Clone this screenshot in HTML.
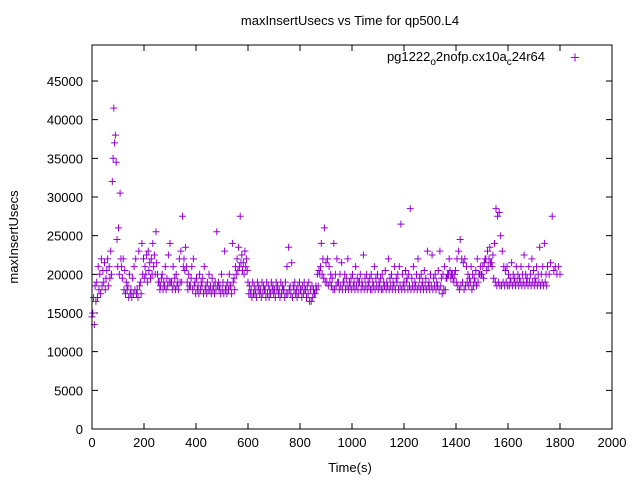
<!DOCTYPE html>
<html><head><meta charset="utf-8"><style>
body{margin:0;background:#fff;}
svg text{font-family:"Liberation Sans",Arial,sans-serif;font-size:13px;fill:#000;}
</style></head><body>
<svg id="chart" width="640" height="480" viewBox="0 0 640 480" xmlns="http://www.w3.org/2000/svg">
<rect width="640" height="480" fill="#fff"/>
<text x="350" y="25" text-anchor="middle">maxInsertUsecs vs Time for qp500.L4</text>
<text transform="translate(18,237) rotate(-90)" text-anchor="middle">maxInsertUsecs</text>
<text x="350" y="472" text-anchor="middle">Time(s)</text>
<g id="ticks"></g>
<g id="marks"></g>
<rect x="92" y="45" width="520" height="384" fill="none" stroke="#000" stroke-width="1"/>
<g>
<text x="545" y="61" text-anchor="end">pg1222<tspan font-size="10" dy="4">o</tspan><tspan dy="-4">2nofp.cx10a</tspan><tspan font-size="10" dy="4">c</tspan><tspan dy="-4">24r64</tspan></text>
<path d="M571,57.5h8M575,53.5v8" stroke="#9400d3" stroke-width="1"/>
</g>
</svg>
<script>
const xTicks=[0,200,400,600,800,1000,1200,1400,1600,1800,2000];
const yTicks=[0,5000,10000,15000,20000,25000,30000,35000,40000,45000];
const tStart=0, tStep=6, tOffsetLower=3;
const upperVals=[14.5,17,18.5,19,21,20,22,20.5,21.5,19.5,22,21,23,32,41.5,38,24.5,26,30.5,21,22,20.5,19,18.5,20,18,19.5,21,22,18,23,19,24,22,21,22.5,23,21.5,22,24,22.5,25.5,20,19,18.5,20,19,21,19.5,22.5,24,19,21,19.5,20,19,22,23,27.5,22,23.5,19,20,18.5,21,22,19,19.5,18.5,20,19,19.5,21,18.5,19,20,18.5,19.5,18.5,19,25.5,19,18.5,20,19,23,18.5,19,20,18.5,24,19.5,21,22,23.5,27.5,22.5,21.5,23,22,19,18.5,18,19,18.5,18,19,18.5,18,19,18.5,18,19,18.5,18,19,18.5,18,19,18.5,18,19,18.5,18,19,21,23.5,18.5,21.5,18.5,19,18,18.5,19,18,18.5,19,18,18.5,19,18,18.5,18,17.5,18,18.5,20,24,22,26,21.5,22,21,20,19.5,24,20,22,19,20,21.5,19,20,19.5,22,19,19.5,20,19,21,19.5,19,20,19,22.5,19.5,20,19,19.5,20,19,21,19.5,20,19,19.5,20,19,20.5,19,22,19.5,20,19,21,19.5,20,21,26.5,20,19,20.5,19.5,20,28.5,19.5,21,19,20,22,19.5,20,19,20.5,19.5,23,19,20,22.5,19.5,20,19,20.5,23,19.5,20,21,19.5,20,22,19.5,20,19,20.5,22,23,24.5,22,21.5,22,21,20,19.5,21,20,19.5,20.5,22,20,21,20,19.5,22,20.5,21,23.5,21.5,22.5,24,28.5,27.5,28,25,23,21,20.5,21,20,19.5,21.5,20,19.5,21,20,19.5,21,20,22.5,20,19.5,21,20,22,20.5,19.5,21,20,23.5,20,21,24,20,21,20,21.5,27.5,20.5,21,20,21,20];
const lowerVals=[15,13.5,16.5,17,18,17.5,18.5,19,18,20.5,18.5,19.5,20,35,37,34.5,21,20,22,19.5,18,17.5,18,17,17.5,17,17.5,18,17.5,17,18.5,17.5,20,19.5,20,19,20.5,19.5,20,21,20,21.5,19,18,19.5,18,18.5,18,18.5,19,19,18,18.5,18,18.5,18,19,19,21,20.5,21,18,18.5,19.5,18,18.5,17.5,18,17.5,18,18.5,17.5,18,17.5,18,18,17.5,18,17.5,18,18.5,18,17.5,18,17.5,18,17.5,18,18.5,17.5,19,18,20,20.5,21,21.5,20.5,20,21,20.5,17.5,17.5,17,17.5,17.5,17,18,17.5,17,17.5,18,17,17.5,17,17.5,18,17.5,17,18,17.5,17,17.5,18,17,17.5,17.5,18,17.5,17,18,17.5,17,17.5,18,17,17.5,18,17,17.5,16.5,16.5,17,17.5,18.5,20,20.5,21,20,19.5,19,19,18.5,19,18.5,18,18,18.5,19,18,18.5,18,19,18,18.5,18,18.5,18,18.5,18,18.5,18,19,18,18.5,18,18.5,18,18.5,18,18,18.5,18,18.5,18,18.5,18,18,18.5,18,18.5,18,18.5,18,18.5,18,19,18,18.5,18,18.5,18,19,18,18.5,18,18.5,18,18.5,18,18.5,18,18.5,18,18.5,18,18.5,18,18.5,18,18.5,18,18.5,18,18.5,17.5,18,18,19.5,20,20.5,20,19.5,20,19,18.5,18,18.5,19,18,18.5,19,18.5,19,18,18.5,19,18.5,19,20,20,21,21.5,22,23,22,21.5,21,19.5,19,18.5,19,18.5,18.5,19,18.5,19,18.5,18.5,19,18.5,19,18.5,19,18.5,19,18.5,19,18.5,19,18.5,19,18.5,19,18.5,19,18.5,19,18.5,19,18.5,19,18.5];
const NS='http://www.w3.org/2000/svg';
const L=92,R=612,T=45,B=429,XMAX=2000,YMAX=49655;
function xs(v){return L+(v/XMAX)*(R-L);}
function ys(v){return B-(v/YMAX)*(B-T);}
const tg=document.getElementById('ticks');
xTicks.forEach(v=>{
  const x=xs(v);
  const p=document.createElementNS(NS,'path');
  p.setAttribute('d',`M${x},${B}v-6M${x},${T}v6`);
  p.setAttribute('stroke','#000');
  
  
  tg.appendChild(p);
  const t=document.createElementNS(NS,'text');
  t.setAttribute('x',x);t.setAttribute('y',B+18);t.setAttribute('text-anchor','middle');
  t.textContent=v;
  
  
  tg.appendChild(t);
});
yTicks.forEach(v=>{
  const y=ys(v);
  const p=document.createElementNS(NS,'path');
  p.setAttribute('d',`M${L},${y}h6M${R},${y}h-6`);
  p.setAttribute('stroke','#000');
  
  
  tg.appendChild(p);
  const t=document.createElementNS(NS,'text');
  t.setAttribute('x',L-9);t.setAttribute('y',y+5);t.setAttribute('text-anchor','end');
  t.textContent=v;
  
  
  tg.appendChild(t);
});
const mg=document.getElementById('marks');
let d='';
[[upperVals,0],[lowerVals,tOffsetLower]].forEach(([arr,off])=>{
  arr.forEach((v,i)=>{
    const x=xs(tStart+off+i*tStep), y=ys(v*1000);
    d+=`M${(x-3.5).toFixed(1)},${y.toFixed(1)}h7M${x.toFixed(1)},${(y-3.5).toFixed(1)}v7`;
  });
});
const pts=document.createElementNS(NS,'path');
pts.setAttribute('d',d);
pts.setAttribute('stroke','#9400d3');
pts.setAttribute('stroke-width','1');
pts.setAttribute('fill','none');


mg.appendChild(pts);
</script>
</body></html>
